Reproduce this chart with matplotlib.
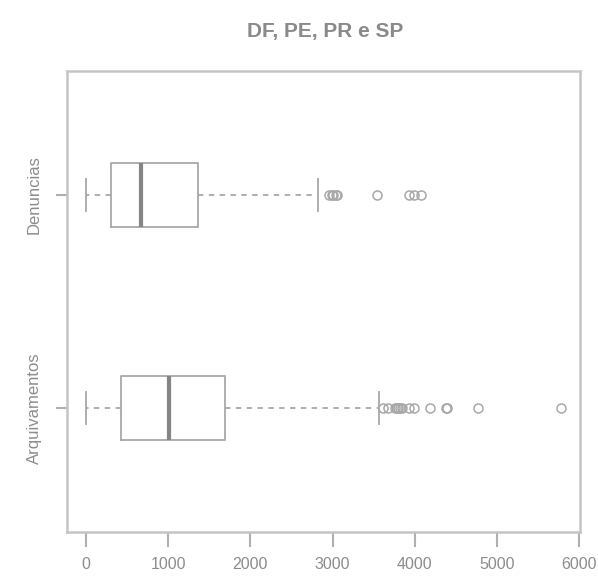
import matplotlib
matplotlib.use('Agg')
import matplotlib.pyplot as plt

plt.rcParams['font.family'] = ['Liberation Sans', 'DejaVu Sans']

# values
labels = ['Arquivamentos', 'Denuncias']
whislo = [0, 5]
q1 = [420, 300]
med = [1010, 675]
q3 = [1690, 1360]
whishi = [3560, 2825]
fliers = [
    [3620, 3680, 3760, 3790, 3800, 3820, 3850, 3930, 3990, 4190, 4380, 4390, 4770, 5780],
    [2960, 2990, 3010, 3040, 3060, 3540, 3930, 3990, 4080],
]
xticks = [0, 1000, 2000, 3000, 4000, 5000, 6000]

stats = []
for i in range(len(labels)):
    stats.append(dict(label=labels[i], whislo=whislo[i], q1=q1[i], med=med[i],
                      q3=q3[i], whishi=whishi[i], fliers=fliers[i]))

grey = '#a8a8a8'
txt = '#8c8c8c'

fig = plt.figure(figsize=(5.98, 5.76), dpi=100)
ax = fig.add_axes([67 / 598, 1 - 532 / 576, 513 / 598, 461 / 576])

ax.bxp(stats, vert=False, widths=0.3, capwidths=0.15,
       boxprops=dict(color=grey, linewidth=1.3),
       whiskerprops=dict(color=grey, linewidth=1.3, linestyle=(0, (3, 3))),
       capprops=dict(color=grey, linewidth=1.3),
       medianprops=dict(color='#858585', linewidth=3),
       flierprops=dict(marker='o', markerfacecolor='none', markeredgecolor=grey,
                       markersize=6.5, markeredgewidth=1.1))

ax.set_xlim(-231, 6011)
ax.set_ylim(0.42, 2.58)
ax.set_xticks(xticks)
ax.set_xticklabels([str(t) for t in xticks])
ax.set_yticks([1, 2])
ax.set_yticklabels(labels, rotation=90, va='center')

for s in ax.spines.values():
    s.set_color('#c4c4c4')
    s.set_linewidth(1.8)
ax.tick_params(axis='x', colors='#b0b0b0', length=11, width=1.5, labelsize=11.5,
               labelcolor=txt, pad=7)
ax.tick_params(axis='y', colors='#b0b0b0', length=8, width=1.5, labelsize=12,
               labelcolor=txt, pad=10)

fig.text(325 / 598, 1 - 32 / 576, 'DF, PE, PR e SP', ha='center', va='center',
         fontsize=15, fontweight='bold', color='#8a8a8a')

fig.savefig('out.png', dpi=100)
